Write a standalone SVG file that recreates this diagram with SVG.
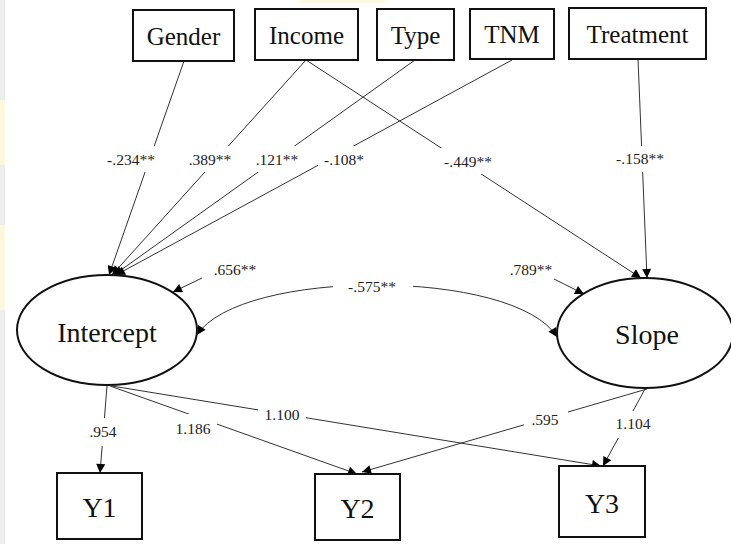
<svg xmlns="http://www.w3.org/2000/svg" width="731" height="544" viewBox="0 0 731 544">
  <style>
    .box { fill: #fff; stroke: #111; stroke-width: 2; }
    .ell { fill: #fff; stroke: #111; stroke-width: 2; }
    .name { font-family: "Liberation Serif", "Times New Roman", serif; fill: #111; text-anchor: middle; }
    .top { font-size: 25px; }
    .big { font-size: 28px; }
    .coef { font-family: "Liberation Serif", "Times New Roman", serif; font-size: 15.5px; fill: #222; text-anchor: middle; }
    .gap { fill: #fff; }
    .link { fill: none; stroke: #333; stroke-width: 1; }
  </style>
  <defs>
    <marker id="arrow" viewBox="0 0 10 10" refX="10" refY="5" markerWidth="11" markerHeight="9" markerUnits="userSpaceOnUse" orient="auto-start-reverse">
      <path d="M0,0 L10,5 L0,10 Z" fill="#000"/>
    </marker>
  </defs>

  <rect width="731" height="544" fill="#fff"/>
  <!-- soft edge tint -->
  <rect x="0" y="0" width="5" height="544" fill="#eceeee"/>
  <rect x="0" y="100" width="5" height="65" fill="#fdf8dc"/>
  <rect x="0" y="225" width="5" height="85" fill="#fdf8dc"/>
  <rect x="300" y="0" width="85" height="3" fill="#fdf8e0"/>

  <!-- connectors -->
  <g id="connectors">
    <line class="link" x1="184" y1="61" x2="109" y2="275" marker-end="url(#arrow)"/>
    <line class="link" x1="306" y1="60" x2="112" y2="275" marker-end="url(#arrow)"/>
    <line class="link" x1="415" y1="60" x2="114" y2="275" marker-end="url(#arrow)"/>
    <line class="link" x1="512" y1="60" x2="116" y2="275" marker-end="url(#arrow)"/>
    <line class="link" x1="306" y1="60" x2="641" y2="278" marker-end="url(#arrow)"/>
    <line class="link" x1="638" y1="59" x2="647" y2="278" marker-end="url(#arrow)"/>
    <line class="link" x1="202" y1="278" x2="173" y2="292" marker-end="url(#arrow)"/>
    <line class="link" x1="554" y1="279" x2="584" y2="294" marker-end="url(#arrow)"/>
    <path class="link" d="M197,335 C240,268 515,268 557,337" marker-start="url(#arrow)" marker-end="url(#arrow)"/>
    <line class="link" x1="107" y1="386" x2="100" y2="473" marker-end="url(#arrow)"/>
    <line class="link" x1="110" y1="386" x2="357" y2="474" marker-end="url(#arrow)"/>
    <line class="link" x1="112" y1="386" x2="601" y2="466" marker-end="url(#arrow)"/>
    <line class="link" x1="647" y1="389" x2="362" y2="472" marker-end="url(#arrow)"/>
    <line class="link" x1="645" y1="389" x2="603" y2="466" marker-end="url(#arrow)"/>
  </g>

  <!-- path coefficients -->
  <g id="coefficients">
    <rect class="gap" x="103" y="146" width="56" height="26"/>
    <text class="coef" x="131" y="165">-.234**</text>
    <rect class="gap" x="184" y="146" width="52" height="26"/>
    <text class="coef" x="210" y="165">.389**</text>
    <rect class="gap" x="251" y="146" width="52" height="26"/>
    <text class="coef" x="277" y="165">.121**</text>
    <rect class="gap" x="318" y="146" width="52" height="24"/>
    <text class="coef" x="344" y="165">-.108*</text>
    <rect class="gap" x="438" y="148" width="60" height="26"/>
    <text class="coef" x="468" y="167">-.449**</text>
    <rect class="gap" x="610" y="146" width="60" height="26"/>
    <text class="coef" x="640" y="164">-.158**</text>
    <text class="coef" x="235" y="275">.656**</text>
    <rect class="gap" x="333" y="276" width="80" height="22"/>
    <text class="coef" x="372" y="292">-.575**</text>
    <text class="coef" x="531" y="275">.789**</text>
    <rect class="gap" x="84" y="418" width="38" height="28"/>
    <text class="coef" x="103" y="437">.954</text>
    <rect class="gap" x="171" y="414" width="46" height="26"/>
    <text class="coef" x="193" y="434">1.186</text>
    <rect class="gap" x="258" y="402" width="48" height="24"/>
    <text class="coef" x="282" y="420">1.100</text>
    <rect class="gap" x="524" y="408" width="44" height="24"/>
    <text class="coef" x="545" y="425">.595</text>
    <rect class="gap" x="612" y="411" width="44" height="27"/>
    <text class="coef" x="633" y="429">1.104</text>
  </g>

  <!-- observed predictors -->
  <g id="gender">
    <rect class="box" x="133" y="10" width="101" height="51"/>
    <text class="name top" x="183.5" y="45">Gender</text>
  </g>
  <g id="income">
    <rect class="box" x="255" y="9" width="103" height="51"/>
    <text class="name top" x="306.5" y="44">Income</text>
  </g>
  <g id="type">
    <rect class="box" x="377" y="9" width="77" height="51"/>
    <text class="name top" x="415.5" y="44">Type</text>
  </g>
  <g id="tnm">
    <rect class="box" x="470" y="9" width="84" height="50"/>
    <text class="name top" x="512" y="43">TNM</text>
  </g>
  <g id="treatment">
    <rect class="box" x="569" y="8" width="137" height="51"/>
    <text class="name top" x="637.5" y="43">Treatment</text>
  </g>

  <!-- latent growth factors -->
  <g id="intercept">
    <ellipse class="ell" cx="107" cy="330" rx="90" ry="55"/>
    <text class="name big" x="107" y="342">Intercept</text>
  </g>
  <g id="slope">
    <ellipse class="ell" cx="645" cy="333" rx="88" ry="55"/>
    <text class="name big" x="647" y="344">Slope</text>
  </g>

  <!-- repeated outcomes -->
  <g id="y1">
    <rect class="box" x="57" y="473" width="85" height="66"/>
    <text class="name big" x="99.5" y="517">Y1</text>
  </g>
  <g id="y2">
    <rect class="box" x="315" y="474" width="85" height="66"/>
    <text class="name big" x="357.5" y="518">Y2</text>
  </g>
  <g id="y3">
    <rect class="box" x="559" y="466" width="86" height="71"/>
    <text class="name big" x="602" y="513">Y3</text>
  </g>
</svg>
